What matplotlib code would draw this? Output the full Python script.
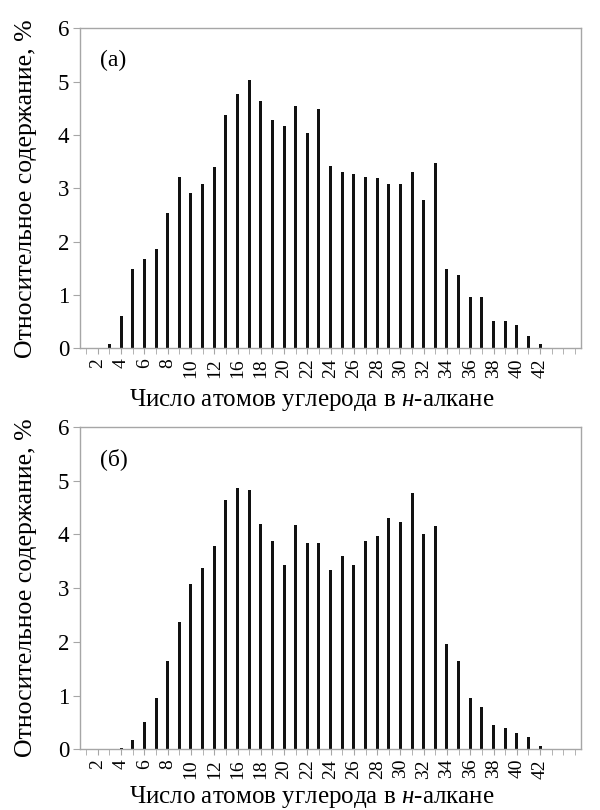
import numpy as np
import matplotlib
matplotlib.use('Agg')
import matplotlib.pyplot as plt

plt.rcParams['font.family'] = ['Liberation Serif', 'DejaVu Serif']
plt.rcParams['mathtext.fontset'] = 'custom'
plt.rcParams['mathtext.rm'] = 'Liberation Serif'
plt.rcParams['mathtext.it'] = 'Liberation Serif:italic'

# category slots 0..42, labels on every other slot (as printed, "14" is absent)
n_slots = 43
tick_labels = ['2', '4', '6', '8', '10', '12', '16', '18', '20', '22', '24', '26',
               '28', '30', '32', '34', '36', '38', '40', '42']

# values for slots 2..39
vals_a = [0.09, 0.61, 1.49, 1.67, 1.86, 2.54, 3.21, 2.91, 3.09, 3.40,
          4.37, 4.76, 5.04, 4.63, 4.28, 4.16, 4.54, 4.03, 4.48, 3.41,
          3.31, 3.26, 3.22, 3.19, 3.08, 3.09, 3.31, 2.78, 3.48, 1.49,
          1.38, 0.96, 0.96, 0.52, 0.51, 0.43, 0.23, 0.09]
vals_b = [0.01, 0.025, 0.17, 0.51, 0.95, 1.64, 2.37, 3.07, 3.38, 3.79,
          4.64, 4.86, 4.82, 4.19, 3.87, 3.43, 4.18, 3.83, 3.83, 3.34,
          3.60, 3.43, 3.87, 3.96, 4.31, 4.23, 4.77, 4.01, 4.15, 1.95,
          1.64, 0.96, 0.79, 0.46, 0.39, 0.31, 0.22, 0.06]
panel_tags = ['(а)', '(б)']

ylabel = 'Относительное содержание, %'
xlabel = 'Число атомов углерода в $\\mathit{н}$-алкане'

fig = plt.figure(figsize=(6, 8.1), dpi=100)
boxes = [[0.134, 0.570, 0.834, 0.395], [0.134, 0.075, 0.834, 0.398]]
xlabel_y = [1 - 406 / 810, 1 - 803 / 810]
grey = '#a6a6a6'

for box, vals, tag, ly in zip(boxes, [vals_a, vals_b], panel_tags, xlabel_y):
    ax = fig.add_axes(box)
    x = np.arange(2, 2 + len(vals))
    ax.bar(x, vals, width=0.26, color='#111111')
    ax.set_xlim(-0.5, n_slots - 0.5)
    ax.set_ylim(0, 6)
    ax.set_yticks(range(7))
    ax.set_xticks(np.arange(1, 1 + 2 * len(tick_labels), 2))
    ax.set_xticklabels(tick_labels, rotation=90, fontsize=14)
    ax.set_xticks(np.arange(n_slots), minor=True)
    ax.tick_params(axis='x', which='both', direction='out', length=4, color=grey, pad=3)
    ax.tick_params(axis='y', direction='out', length=5, color=grey, labelsize=16.5, pad=3)
    for s in ax.spines.values():
        s.set_color(grey)
        s.set_linewidth(1.0)
    ax.text(0.04, 0.90, tag, transform=ax.transAxes, fontsize=17, va='center')
    yc = box[1] + box[3] / 2
    fig.text(26 / 600, yc, ylabel, rotation=90, ha='center', va='center', fontsize=18.5)
    fig.text(312 / 600, ly, xlabel, ha='center', va='baseline', fontsize=18)

fig.savefig('out.png', dpi=100)
